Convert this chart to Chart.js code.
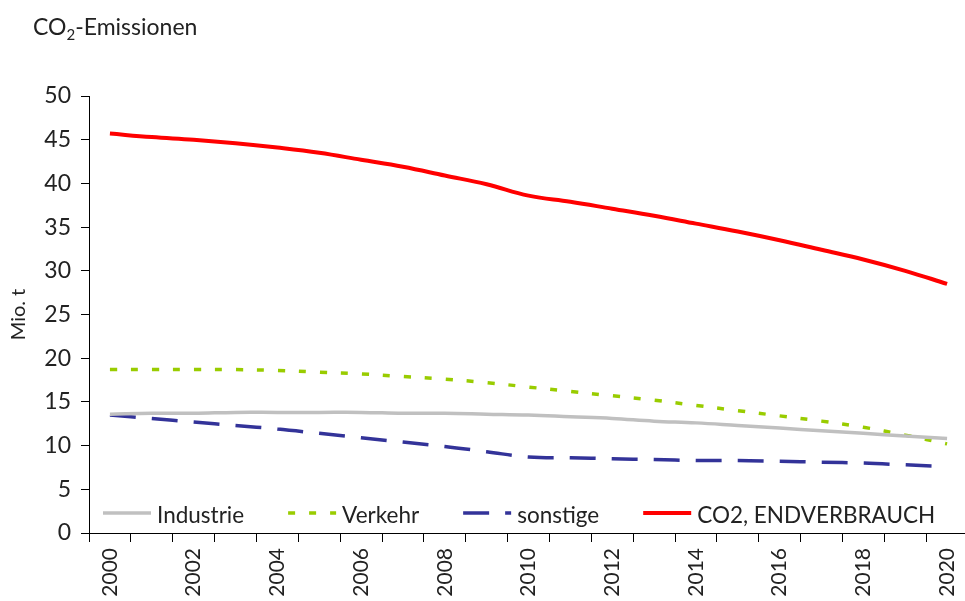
<!DOCTYPE html>
<html><head><meta charset="utf-8">
<script src="https://cdn.jsdelivr.net/npm/chart.js@4"></script>
<style>html,body{margin:0;padding:0;background:#fff;overflow:hidden;width:965px;height:601px}canvas{display:block}</style>
</head><body>
<canvas id="c" width="970" height="601"></canvas>
<script>
const years = ['2000','2001','2002','2003','2004','2005','2006','2007','2008','2009','2010','2011','2012','2013','2014','2015','2016','2017','2018','2019','2020'];
const tickLabels = ['2000','','2002','','2004','','2006','','2008','','2010','','2012','','2014','','2016','','2018','','2020'];
const industrie = [13.6,13.7,13.7,13.8,13.8,13.8,13.8,13.7,13.7,13.6,13.5,13.3,13.1,12.8,12.6,12.3,12.0,11.7,11.4,11.1,10.8];
const verkehr = [18.7,18.7,18.7,18.7,18.6,18.4,18.2,17.9,17.6,17.2,16.7,16.2,15.7,15.2,14.6,14.0,13.4,12.8,12.1,11.2,10.2];
const sonstige = [13.5,13.1,12.7,12.3,11.9,11.4,10.9,10.4,9.9,9.3,8.7,8.6,8.5,8.4,8.3,8.3,8.2,8.1,8.0,7.8,7.6];
const endverbrauch = [45.7,45.3,45.0,44.6,44.1,43.5,42.7,41.9,40.9,39.9,38.6,37.9,37.1,36.3,35.4,34.5,33.5,32.4,31.3,30.0,28.5];
const seriesNames = ['Industrie','Verkehr','sonstige','CO2, ENDVERBRAUCH'];
const titleParts = ['CO','2','-Emissionen'];
const yTitle = 'Mio. t';

const FONT = 'Lato';
const TXT = '#222';

const titlePlugin = {
  id: 'subTitle',
  afterDraw(chart) {
    const ctx = chart.ctx;
    ctx.save();
    ctx.fillStyle = TXT;
    ctx.textBaseline = 'alphabetic';
    let x = 33, y = 35;
    ctx.font = '23px ' + FONT;
    ctx.fillText(titleParts[0], x, y); x += ctx.measureText(titleParts[0]).width;
    ctx.font = '15px ' + FONT;
    ctx.fillText(titleParts[1], x, y + 5); x += ctx.measureText(titleParts[1]).width;
    ctx.font = '23px ' + FONT;
    ctx.fillText(titleParts[2], x, y);
    ctx.restore();
  }
};

const legendPlugin = {
  id: 'inLegend',
  afterDraw(chart) {
    const ctx = chart.ctx;
    const a = chart.chartArea;
    ctx.save();
    ctx.font = '22.5px ' + FONT;
    ctx.textBaseline = 'middle';
    let x = a.left + 14;
    const y = 513;
    chart.data.datasets.forEach(ds => {
      ctx.beginPath();
      ctx.setLineDash(ds.borderDash || []);
      ctx.lineWidth = ds.borderWidth;
      ctx.strokeStyle = ds.borderColor;
      ctx.lineCap = 'butt';
      ctx.moveTo(x, y); ctx.lineTo(x + 48, y); ctx.stroke();
      ctx.setLineDash([]);
      ctx.fillStyle = TXT;
      ctx.fillText(ds.label, x + 54, y + 3);
      x += 54 + ctx.measureText(ds.label).width + 44;
    });
    ctx.restore();
  }
};

const mk = (label, data, color, dash, width) => ({
  label, data, borderColor: color, backgroundColor: color, borderDash: dash, borderWidth: width,
  pointRadius: 0, pointHoverRadius: 0, tension: 0.4, fill: false, borderCapStyle: 'butt'
});

new Chart(document.getElementById('c'), {
  type: 'line',
  data: {
    labels: years,
    datasets: [
      mk(seriesNames[0], industrie, '#c0c0c0', [], 3.5),
      mk(seriesNames[1], verkehr, '#99cc00', [7, 14], 3.5),
      mk(seriesNames[2], sonstige, '#333399', [26, 16], 3.5),
      mk(seriesNames[3], endverbrauch, '#ff0000', [], 4)
    ]
  },
  options: {
    responsive: false,
    animation: false,
    layout: { padding: { top: 96, right: 2, left: 0, bottom: 0 } },
    plugins: { legend: { display: false }, title: { display: false }, tooltip: { enabled: false } },
    scales: {
      x: {
        type: 'category',
        offset: true,
        grid: { offset: true, drawOnChartArea: false, drawTicks: true, tickLength: 9, color: '#000', lineWidth: 1 },
        border: { display: true, color: '#000', width: 1 },
        ticks: { autoSkip: false, maxRotation: 90, minRotation: 90, padding: 6, color: TXT, font: { family: FONT, size: 21 },
          callback: (v, i) => tickLabels[i] },
        afterFit: s => { s.height = 68; s.paddingRight = 0; s.paddingLeft = 0; }
      },
      y: {
        min: 0, max: 50,
        grid: { drawOnChartArea: false, drawTicks: true, tickLength: 8, color: '#000', lineWidth: 1 },
        border: { display: true, color: '#000', width: 1 },
        ticks: { stepSize: 5, padding: 10, color: TXT, font: { family: FONT, size: 23 } },
        title: { display: true, text: yTitle, color: TXT, font: { family: FONT, size: 20 }, padding: { top: 7, bottom: 0 } },
        afterFit: s => { s.width = 89; }
      }
    }
  },
  plugins: [titlePlugin, legendPlugin]
});
</script>
</body></html>
